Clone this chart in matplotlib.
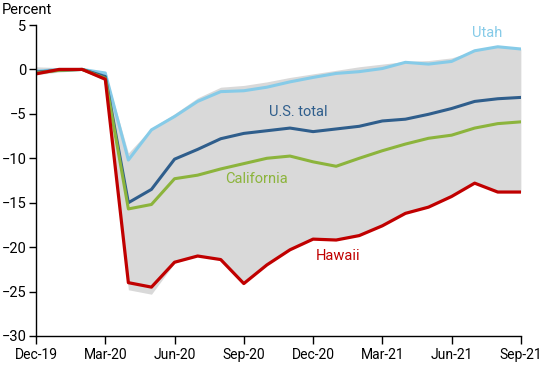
import matplotlib
matplotlib.use("Agg")
import matplotlib.pyplot as plt
import numpy as np

plt.rcParams["font.family"] = ["Roboto", "DejaVu Sans"]

# monthly, Dec-19 .. Sep-21
months = ["Dec-19", "Jan-20", "Feb-20", "Mar-20", "Apr-20", "May-20", "Jun-20",
          "Jul-20", "Aug-20", "Sep-20", "Oct-20", "Nov-20", "Dec-20", "Jan-21",
          "Feb-21", "Mar-21", "Apr-21", "May-21", "Jun-21", "Jul-21", "Aug-21",
          "Sep-21"]
tick_labels = ["Dec-19", "Mar-20", "Jun-20", "Sep-20", "Dec-20", "Mar-21", "Jun-21", "Sep-21"]

utah = [-0.2, 0.0, 0.0, -0.4, -10.2, -6.8, -5.3, -3.6, -2.5, -2.4, -2.0, -1.4,
        -0.9, -0.45, -0.25, 0.1, 0.8, 0.6, 0.9, 2.1, 2.55, 2.3]
us_total = [-0.3, -0.1, 0.0, -0.8, -15.0, -13.5, -10.1, -9.0, -7.8, -7.2, -6.9, -6.6,
            -7.0, -6.7, -6.4, -5.8, -5.6, -5.05, -4.4, -3.6, -3.3, -3.15]
california = [-0.4, -0.1, 0.0, -1.0, -15.7, -15.2, -12.3, -11.9, -11.2, -10.6, -10.0, -9.75,
              -10.4, -10.9, -10.0, -9.15, -8.4, -7.75, -7.4, -6.6, -6.1, -5.9]
hawaii = [-0.5, 0.0, 0.0, -1.1, -24.0, -24.5, -21.7, -21.0, -21.4, -24.1, -22.0, -20.3,
          -19.1, -19.2, -18.7, -17.6, -16.2, -15.5, -14.3, -12.8, -13.8, -13.8]

# range across all states
band_upper = [0.3, 0.2, 0.1, -0.3, -9.4, -6.6, -5.0, -3.2, -2.0, -1.8, -1.4, -0.9,
              -0.5, -0.1, 0.3, 0.6, 0.9, 1.0, 1.3, 2.1, 2.6, 2.3]
band_lower = [-0.6, -0.3, -0.1, -1.3, -24.8, -25.3, -21.8, -21.0, -21.4, -24.1, -22.0, -20.3,
              -19.1, -19.2, -18.7, -17.6, -16.2, -15.5, -14.3, -12.8, -13.8, -13.8]

x = np.arange(len(months))

fig = plt.figure(figsize=(5.5, 3.65), dpi=100)
ax = fig.add_axes([0.0655, 0.0795, 0.8815, 0.852])

ax.fill_between(x, band_lower, band_upper, color="#d9d9d9", lw=0)
ax.plot(x, utah, color="#86cbe8", lw=2.2)
ax.plot(x, us_total, color="#2f5e8c", lw=2.2)
ax.plot(x, california, color="#8cb43c", lw=2.2)
ax.plot(x, hawaii, color="#c00000", lw=2.3)

ax.text(18.9, 4.1, "Utah", color="#86cbe8", fontsize=10.5, va="center", ha="left")
ax.text(10.1, -4.8, "U.S. total", color="#2f5e8c", fontsize=10.5, va="center", ha="left")
ax.text(8.2, -12.3, "California", color="#8cb43c", fontsize=10.5, va="center", ha="left")
ax.text(12.1, -21.0, "Hawaii", color="#c00000", fontsize=10.5, va="center", ha="left")

ax.set_xlim(0, len(months) - 1)
ax.set_ylim(-30, 5)
ax.set_xticks(x[::3])
ax.set_xticklabels(tick_labels, fontsize=10)
ax.set_yticks(np.arange(-30, 6, 5))
ax.tick_params(axis="y", labelsize=10.5, length=5, width=1, pad=2)
ax.tick_params(axis="x", length=6, width=1, pad=3)

for side in ["top", "right"]:
    ax.spines[side].set_visible(False)
for side in ["left", "bottom"]:
    ax.spines[side].set_linewidth(1)
    ax.spines[side].set_color("black")

fig.text(0.004, 0.972, "Percent", fontsize=10.5, va="center", ha="left")

fig.savefig("out.png", dpi=100)
